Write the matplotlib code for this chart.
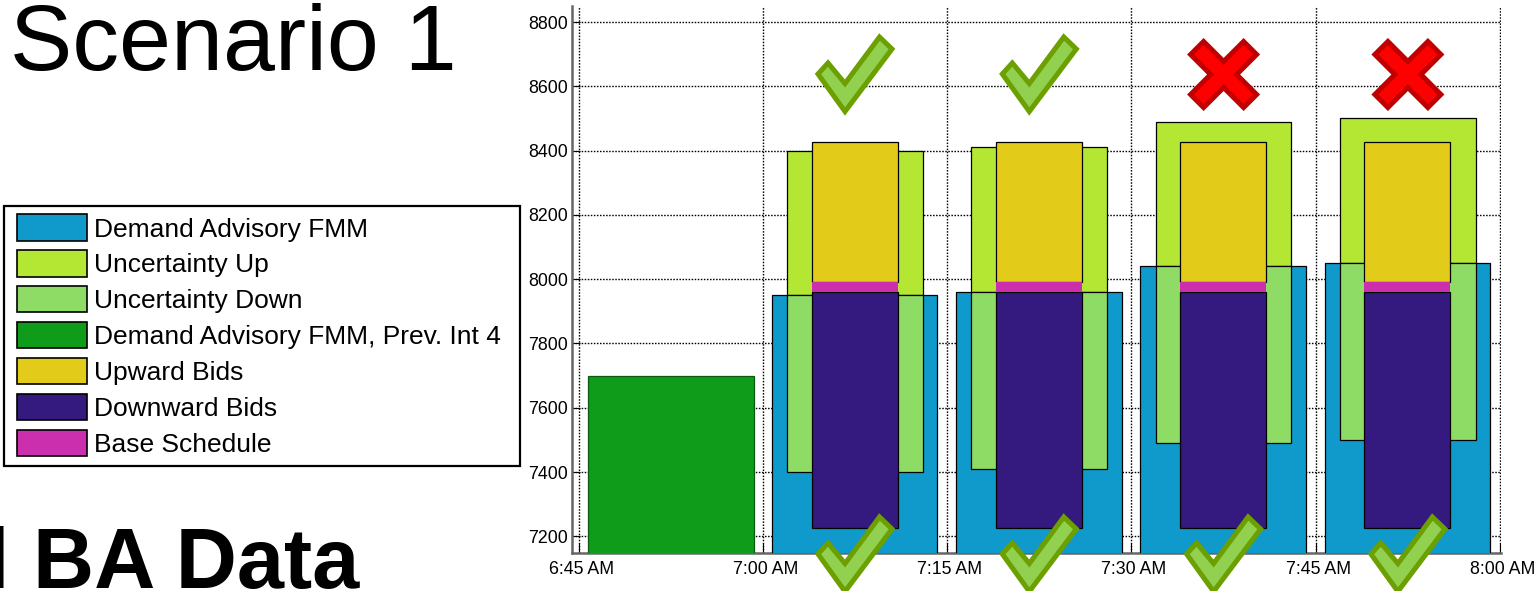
import matplotlib
matplotlib.use("Agg")
import matplotlib.pyplot as plt
from matplotlib.patches import Patch, Polygon, Rectangle
from matplotlib.transforms import ScaledTranslation

plt.rcParams['font.family'] = ['Liberation Sans', 'DejaVu Sans']
W, H = 1537, 591

tick_minutes = [0, 15, 30, 45, 60, 75]
tick_labels = ['6:45 AM', '7:00 AM', '7:15 AM', '7:30 AM', '7:45 AM', '8:00 AM']
y_ticks = [7200, 7400, 7600, 7800, 8000, 8200, 8400, 8600, 8800]

interval_starts = [15, 30, 45, 60]
prev_start = [0.75]
prev_demand = [7700]
demand_fmm = [7950, 7960, 8040, 8050]
uncertainty_up = [8400, 8410, 8490, 8500]
uncertainty_down = [7400, 7410, 7490, 7500]
upward_bids = [8427, 8427, 8427, 8427]
base_top = [7990, 7990, 7990, 7990]
base_bottom = [7960, 7960, 7960, 7960]
downward_bids = [7225, 7225, 7225, 7225]

top_marks = ['check', 'check', 'cross', 'cross']
bottom_marks = ['check', 'check', 'check', 'check']

C_DEMAND = '#0F9ACB'; C_UP = '#B3E733'; C_DOWN = '#8EDC66'; C_PREV = '#0E9C1A'
C_UPB = '#E3CC19'; C_DOWNB = '#34197F'; C_BASE = '#CB2FAE'
labels = ['Demand Advisory FMM', 'Uncertainty Up', 'Uncertainty Down',
          'Demand Advisory FMM, Prev. Int 4', 'Upward Bids', 'Downward Bids', 'Base Schedule']
colors = [C_DEMAND, C_UP, C_DOWN, C_PREV, C_UPB, C_DOWNB, C_BASE]

fig = plt.figure(figsize=(W / 100, H / 100), dpi=100, facecolor='white')
ax = fig.add_axes([572 / W, 1 - 553 / H, (1500.5 - 572) / W, (553 - 6) / H])
ax.set_xlim(-0.55, 75.05)
ax.set_ylim(7148, 8850)
ax.set_axisbelow(True)
ax.grid(True, color='black', linestyle=(0, (1.1, 1.1)), linewidth=1.0)
for s in ('top', 'right'):
    ax.spines[s].set_visible(False)
for s in ('left', 'bottom'):
    ax.spines[s].set_color('#666666')
    ax.spines[s].set_linewidth(1.8)
ax.set_xticks(tick_minutes)
ax.set_xticklabels(tick_labels)
ax.set_yticks(y_ticks)
ax.tick_params(axis='x', direction='in', length=7, width=0.8, color='black', labelsize=12.8, pad=6)
ax.tick_params(axis='y', direction='in', length=6, width=0.8, color='black', labelsize=12.8, pad=3)
shift = ScaledTranslation(2.5 / 100, 0, fig.dpi_scale_trans)
for t in ax.get_xticklabels():
    t.set_transform(t.get_transform() + shift)

edge = dict(edgecolor='black', linewidth=0.9)
ax.bar(prev_start, prev_demand, width=13.5, align='edge', color=C_PREV, zorder=3, edgecolor='#0A5A10', linewidth=0.9)
for i, s in enumerate(interval_starts):
    ax.bar(s + 0.73, demand_fmm[i], width=13.47, align='edge', color=C_DEMAND, zorder=3, **edge)
    ax.bar(s + 1.97, uncertainty_up[i] - demand_fmm[i], bottom=demand_fmm[i], width=11.05, align='edge', color=C_UP, zorder=4, **edge)
    ax.bar(s + 1.97, demand_fmm[i] - uncertainty_down[i], bottom=uncertainty_down[i], width=11.05, align='edge', color=C_DOWN, zorder=4, **edge)
    ax.bar(s + 3.97, upward_bids[i] - base_top[i], bottom=base_top[i], width=7, align='edge', color=C_UPB, zorder=5, **edge)
    ax.bar(s + 3.97, base_bottom[i] - downward_bids[i], bottom=downward_bids[i], width=7, align='edge', color=C_DOWNB, zorder=5, **edge)
    ax.bar(s + 3.97, base_top[i] - base_bottom[i], bottom=base_bottom[i], width=7, align='edge', color=C_BASE, zorder=6, linewidth=0)


def px(points):
    return [(x / W, 1 - y / H) for x, y in points]


CHECK = [(-27, -1), (-17, -12), (0, 8.5), (34.5, -38), (47, -26), (0, 36.5)]
CROSS = [(-33, -20), (-20, -33), (0, -13), (20, -33), (33, -20), (13, 0),
         (33, 20), (20, 33), (0, 13), (-20, 33), (-33, 20), (-13, 0)]


def add_mark(kind, cx, cy):
    if kind == 'check':
        shape, fc, ec = CHECK, '#92D050', '#6C9F00'
    else:
        shape, fc, ec = CROSS, '#FF0000', '#C00000'
    fig.add_artist(Polygon(px([(cx + a, cy + b) for a, b in shape]), closed=True,
                           transform=fig.transFigure, facecolor=fc, edgecolor=ec,
                           linewidth=3.6, joinstyle='miter', zorder=10))


for i, kind in enumerate(top_marks):
    cx = (845 if kind == 'check' else 855) + i * 184.3
    add_mark(kind, cx, 74.5 if kind == 'cross' else 75)
for i, kind in enumerate(bottom_marks):
    add_mark(kind, 845 + i * 184.3, 555)

fig.add_artist(Rectangle((4 / W, 1 - 466 / H), 516 / W, 260 / H, transform=fig.transFigure,
                         facecolor='white', edgecolor='black', linewidth=1.6, zorder=7))
handles = [Patch(facecolor=c, edgecolor='black', linewidth=1.2) for c in colors]
leg = fig.legend(handles, labels, loc='upper left', bbox_to_anchor=(17 / W, 1 - 214.5 / H),
                 borderaxespad=0, fontsize=19, frameon=False, handlelength=2.65, handleheight=1.15,
                 handletextpad=0.27, labelspacing=0.335, borderpad=0)
leg.set_zorder(8)

fig.text(9.5 / W, 1 - 70 / H, 'Scenario 1', fontsize=67.2, color='black', ha='left', va='baseline')
fig.text(-13.5 / W, 1 - 588 / H, 'l BA Data', fontsize=61, fontweight='bold', color='black', ha='left', va='baseline')

fig.savefig('out.png', dpi=100)
